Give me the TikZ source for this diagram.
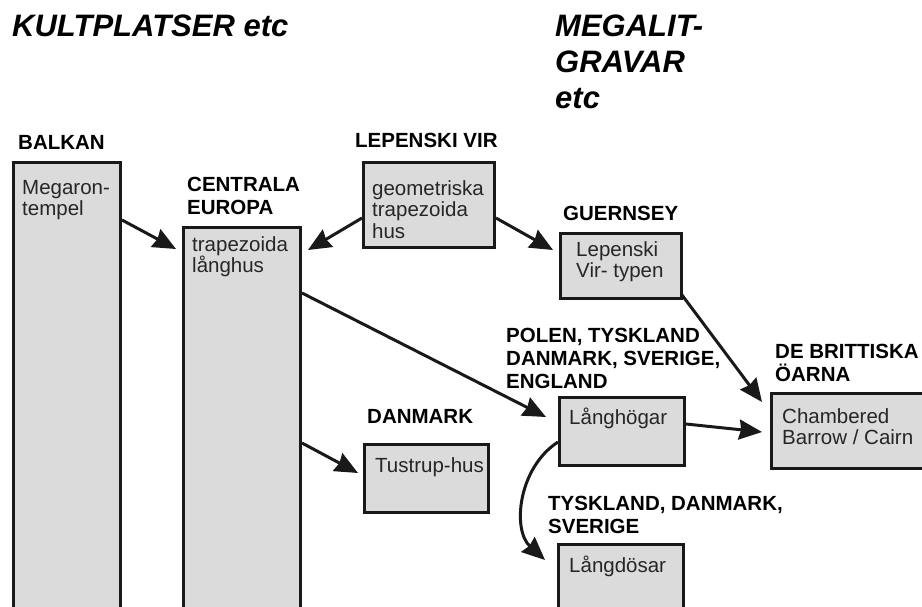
\documentclass[tikz,border=0pt]{standalone}
\usepackage{fontspec}
\setmainfont{Liberation Sans}
\usetikzlibrary{arrows.meta,positioning}

\begin{document}
\begin{tikzpicture}[
  x=1pt,y=-1pt,
  site/.style={draw=black!90, fill=black!14, line width=3pt,
    anchor=north west, inner sep=0pt},
  inside/.style={anchor=north west, inner xsep=10pt, inner ysep=#1,
    align=left, font=\fontsize{20.5}{21.5}\selectfont, text=black!85},
  inside/.default=11pt,
  region/.style={anchor=north west, inner sep=0pt, align=left,
    font=\fontsize{20.5}{23}\selectfont\bfseries},
  heading/.style={anchor=north west, inner sep=0pt, align=left,
    font=\fontsize{31}{36}\selectfont\bfseries\itshape},
  path/.style={-{Stealth[length=23pt, width=20pt, inset=2pt]},
    line width=3pt, draw=black!90}
]
\useasboundingbox (0,0) rectangle (922,607);
\clip (0,0) rectangle (922,607);

\node[heading] (kult) at (12,15) {KULTPLATSER etc};
\node[heading] (megalit) at (555,15) {MEGALIT-\\GRAVAR\\etc};

% boxes
\node[site, minimum width=107pt, minimum height=500pt,
  label={[inside=19pt]north west:Megaron-\\tempel}] (balkan) at (12,161) {};
\node[site, minimum width=117pt, minimum height=420pt,
  label={[inside=10pt]north west:trapezoida\\långhus}] (centrala) at (182,226) {};
\node[site, minimum width=131pt, minimum height=85pt,
  label={[inside=19pt]north west:geometriska\\trapezoida\\hus}] (lepenski) at (362,161) {};
\node[site, minimum width=121pt, minimum height=65pt,
  label={[inside=9pt, inner xsep=17pt]north west:Lepenski\\Vir- typen}] (guernsey) at (559,232) {};
\node[site, minimum width=124pt, minimum height=68pt,
  label={[inside=14pt, inner xsep=12pt]north west:Tustrup-hus}] (tustrup) at (363,443) {};
\node[site, minimum width=125pt, minimum height=68pt,
  label={[inside=12pt, inner xsep=11pt]north west:Långhögar}] (langhogar) at (558,396) {};
\node[site, minimum width=190pt, minimum height=75pt,
  label={[inside=16pt, inner xsep=12pt]north west:Chambered\\Barrow / Cairn}] (chambered) at (770,392) {};
\node[site, minimum width=125pt, minimum height=120pt,
  label={[inside=13pt, inner xsep=12pt]north west:Långdösar}] (langdosar) at (557,543) {};

% regions
\node[region] (balkanname) at (18,135) {BALKAN};
\node[region] (centralaname) at (187,177) {CENTRALA\\EUROPA};
\node[region] (lepenskiname) at (355,133) {LEPENSKI VIR};
\node[region] (guernseyname) at (563,206) {GUERNSEY};
\node[region] (polenname) at (506,328) {POLEN, TYSKLAND\\DANMARK, SVERIGE,\\ENGLAND};
\node[region] (brittname) at (775,344) {DE BRITTISKA\\ÖARNA};
\node[region] (danmarkname) at (367,409) {DANMARK};
\node[region] (tysklandname) at (548,496) {TYSKLAND, DANMARK,\\SVERIGE};

% arrows
\draw[path] ([yshift=-59pt]balkan.north east)
  -- ([xshift=-6pt,yshift=-23pt]centrala.north west);
\draw[path] ([yshift=-57pt]lepenski.north west)
  -- ([xshift=6pt,yshift=-24pt]centrala.north east);
\draw[path] ([yshift=-57pt]lepenski.north east)
  -- ([xshift=-6pt,yshift=-18pt]guernsey.north west);
\draw[path] ([yshift=-67pt]centrala.north east)
  -- ([xshift=-12pt,yshift=-21pt]langhogar.north west);
\draw[path] ([yshift=-217pt]centrala.north east)
  -- ([xshift=-5pt,yshift=-30pt]tustrup.north west);
\draw[path] ([xshift=-1pt,yshift=5pt]guernsey.south east)
  -- ([xshift=-8pt,yshift=-10pt]chambered.north west);
\draw[path] ([yshift=-28pt]langhogar.north east)
  -- ([xshift=-8pt,yshift=-40pt]chambered.north west);
\draw[path] ([yshift=-46pt]langhogar.north west)
  .. controls (518,468) and (512,530) .. ([xshift=-12pt,yshift=-17pt]langdosar.north west);
\end{tikzpicture}
\end{document}
